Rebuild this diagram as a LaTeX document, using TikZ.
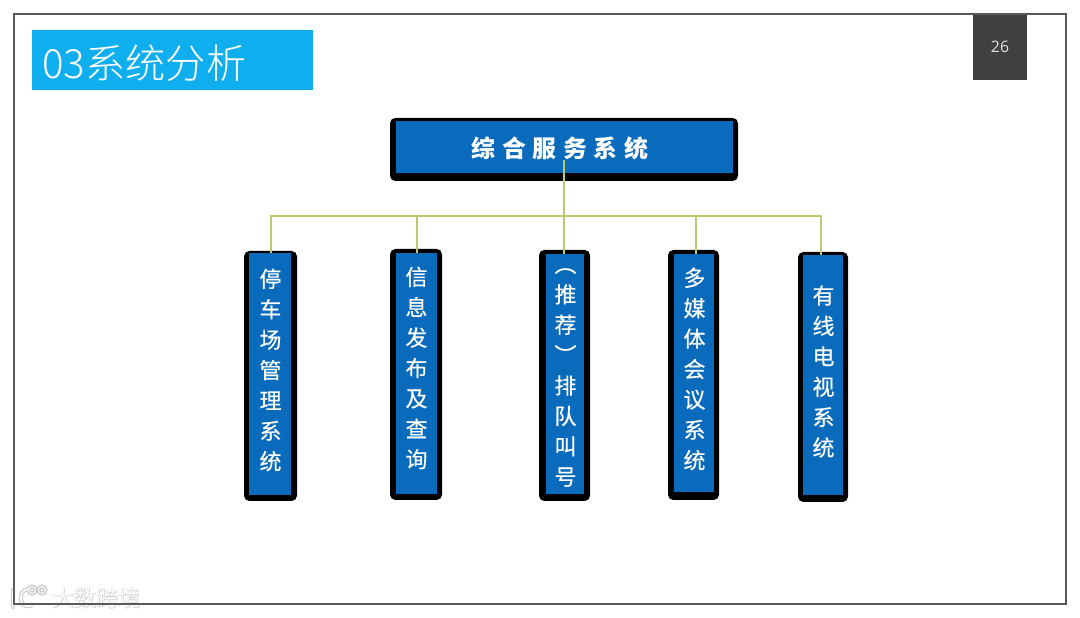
\documentclass[tikz,border=0pt]{standalone}
\usepackage{fontspec}
\setmainfont{Open Sans}
\newfontfamily\cjk[RawFeature={+vert},FakeBold=0.35]{Noto Sans CJK SC}
\newfontfamily\cjkplain{Noto Sans CJK SC}
\newfontfamily\cjklight{Noto Sans CJK SC Light}
\newfontfamily\cjkhub[LetterSpace=28]{Noto Sans CJK SC}
\newfontfamily\cjkhalo[FakeBold=3]{Noto Sans CJK SC}
\definecolor{cardblue}{HTML}{0A6BBD}
\definecolor{titleblue}{HTML}{0FAEEF}
\definecolor{wireline}{HTML}{B9CB6E}
\definecolor{framegray}{HTML}{5A5A5A}
\definecolor{pagegray}{HTML}{404040}
\begin{document}
\begin{tikzpicture}[
  x=0.02cm, y=-0.02cm,
  sized/.style 2 args={minimum width=#1*0.02cm, minimum height=#2*0.02cm, inner sep=0pt, outer sep=0pt},
  backbox/.style={fill=black, rounded corners=3pt},
  card/.style={fill=cardblue},
  cardtext/.style={text=white, align=center, inner sep=0pt, font=\cjk\fontsize{12.5}{17.3}\selectfont},
  wire/.style={draw=wireline, line width=0.6pt},
  logo halo/.style={black!22, line width=2.2pt, line cap=round},
  logo line/.style={white, line width=1pt, line cap=round}
]
\useasboundingbox (0,0) rectangle (1080,618);

\node[sized={281}{60}, fill=titleblue, anchor=north west] (title) at (32,30) {};
\node[text=white, anchor=west, inner sep=0pt, font=\cjklight\fontsize{22.9}{26}\selectfont] (titletext) at (42,63) {03系统分析};
\node[sized={54}{66}, fill=pagegray, anchor=north west, text=white!88!black, font=\fontsize{9}{11}\selectfont] (pagebox) at (973,14) {26};

% watermark
\node[text=black!22, font=\cjkhalo\fontsize{12.5}{15}\selectfont, inner sep=0pt, anchor=west] (markhalo) at (52,598) {大数跨境};
\node[text=white, font=\cjkplain\fontsize{12.5}{15}\selectfont, inner sep=0pt, anchor=west] (markname) at (52,598) {大数跨境};
\draw[logo halo] (13,590) -- (13,607);
\draw[logo halo] (28,589) .. controls (18,590) and (18,609) .. (31,606);
\draw[logo halo] (32,590) circle (3.5) (42,590) circle (3.5);
\draw[logo line] (13,590) -- (13,607);
\draw[logo line] (28,589) .. controls (18,590) and (18,609) .. (31,606);
\draw[white, line width=0.6pt] (32,590) circle (3.5) (42,590) circle (3.5);

\draw[framegray, line width=0.8pt] (14,14) rectangle (1066,604);

% boxes
\node[backbox, sized={348}{63}] (hubBack) at (564,149.5) {};
\node[card, sized={337}{52}] (hub) at (564.5,147.5) {};
\node[text=white, inner sep=0pt, font=\cjkhub\bfseries\fontsize{13.6}{16}\selectfont] (hubtext) at (560,148) {综合服务系统};

\node[backbox, sized={53}{250}] (cardBackA) at (270.5,376) {};
\node[card, sized={42}{242}] (cardA) at (270,374) {};
\node[cardtext] (textA) at (270.5,370) {停\\车\\场\\管\\理\\系\\统};
\node[backbox, sized={52}{251}] (cardBackB) at (416,374.5) {};
\node[card, sized={41}{241}] (cardB) at (416.5,374) {};
\node[cardtext] (textB) at (416.5,368) {信\\息\\发\\布\\及\\查\\询};
\node[backbox, sized={51}{251}] (cardBackC) at (564.5,375.5) {};
\node[card, sized={38}{240}] (cardC) at (565,374) {};
\node[cardtext] (textC) at (565.5,377.5) {（\\推\\荐\\）\\排\\队\\叫\\号};
\node[backbox, sized={51}{250}] (cardBackD) at (693.5,375) {};
\node[card, sized={40}{238}] (cardD) at (694,373) {};
\node[cardtext] (textD) at (694.5,369) {多\\媒\\体\\会\\议\\系\\统};
\node[backbox, sized={50}{250}] (cardBackE) at (823,377) {};
\node[card, sized={40}{240}] (cardE) at (823,375) {};
\node[cardtext] (textE) at (823.5,371.5) {有\\线\\电\\视\\系\\统};

% connectors
\coordinate (hubTail) at (564,160);
\coordinate (busA) at (271,216);
\coordinate (busB) at (417,216);
\coordinate (busD) at (696,216);
\coordinate (busE) at (821,216);
\draw[wire] (hubTail) -- (hubTail |- cardC.north);
\draw[wire] (busA |- cardA.north) -- (busA) -- (busE) -- (busE |- cardE.north);
\draw[wire] (busB) -- (busB |- cardB.north);
\draw[wire] (busD) -- (busD |- cardD.north);
\end{tikzpicture}
\end{document}
